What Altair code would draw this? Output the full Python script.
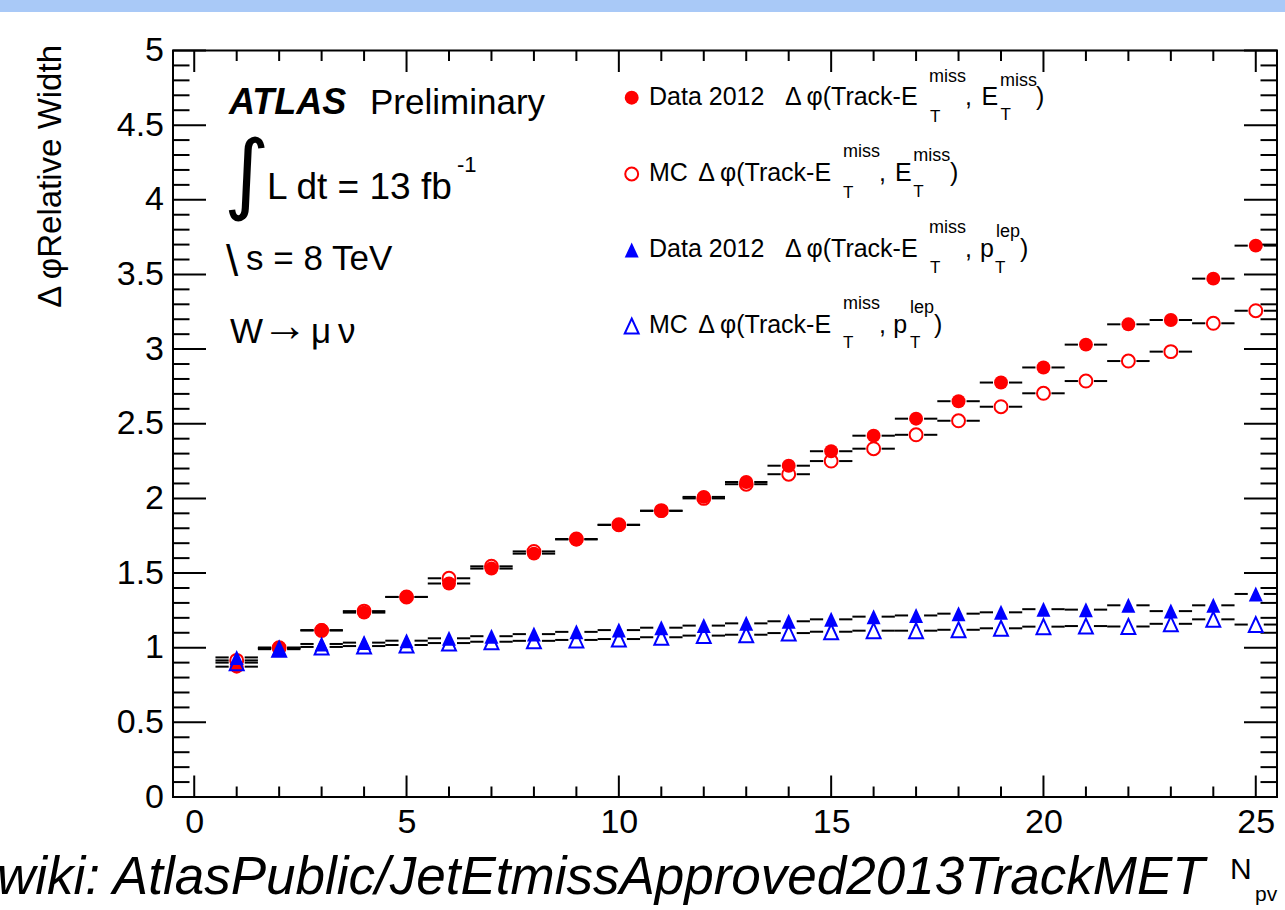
import altair as alt
import numpy as np
import pandas as pd

# Number of primary vertices (bin centres)
n_pv = list(range(1, 26))

# Relative width of the delta-phi distributions per N_pv bin
data_met = [0.873, 1.0, 1.118, 1.235, 1.34, 1.43, 1.53, 1.63, 1.725, 1.822,
            1.916, 2.01, 2.11, 2.219, 2.316, 2.42, 2.534, 2.651, 2.776, 2.877,
            3.03, 3.166, 3.195, 3.472, 3.693]
mc_met = [0.915, 1.0, 1.115, 1.245, 1.34, 1.465, 1.545, 1.645, 1.728, 1.824,
          1.918, 2.0, 2.095, 2.162, 2.25, 2.333, 2.426, 2.52, 2.614, 2.704,
          2.786, 2.92, 2.983, 3.173, 3.257]
data_lep = [0.935, 0.995, 1.025, 1.034, 1.047, 1.063, 1.077, 1.091, 1.106, 1.118,
            1.134, 1.148, 1.163, 1.177, 1.19, 1.208, 1.216, 1.228, 1.237, 1.258,
            1.255, 1.284, 1.245, 1.284, 1.36]
mc_lep = [0.90, 0.99, 1.005, 1.011, 1.018, 1.031, 1.04, 1.046, 1.052, 1.058,
          1.07, 1.081, 1.087, 1.098, 1.107, 1.114, 1.114, 1.12, 1.13, 1.141,
          1.145, 1.142, 1.16, 1.19, 1.155]

series_names = ["data_met", "mc_met", "data_lep", "mc_lep"]
series_vals = [data_met, mc_met, data_lep, mc_lep]

x_tick_labels = [0, 5, 10, 15, 20, 25]
y_tick_labels = [0, 0.5, 1, 1.5, 2, 2.5, 3, 3.5, 4, 4.5, 5]

# ---- layout -------------------------------------------------------------
W, H = 1104, 746.5           # plot frame
OX, OY = 173, 50.5           # frame origin on the page
PAGE_W, PAGE_H = 1285, 910
X_DOMAIN = [-0.5, 25.5]
Y_DOMAIN = [0, 5]
PX_PER_UNIT = W / (X_DOMAIN[1] - X_DOMAIN[0])
GAP = 8 / PX_PER_UNIT        # error bar gap around each marker

RED = "#ff0000"
BLUE = "#0000ff"
FONT = "Liberation Sans"
TRI = "M0,-1L0.93,1L-0.93,1Z"

rows = []
for name, vals in zip(series_names, series_vals):
    for n, v in zip(n_pv, vals):
        rows.append({"npv": n, "val": v, "series": name})
df = pd.DataFrame(rows)

xs = alt.Scale(domain=X_DOMAIN, nice=False, zero=False)
ys = alt.Scale(domain=Y_DOMAIN, nice=False, zero=False)
xaxis = alt.Axis(values=x_tick_labels, labelExpr="'' + datum.value", title=None,
                 ticks=False, tickSize=0, domain=False, grid=False,
                 labelFont=FONT, labelFontSize=34, labelColor="black",
                 labelPadding=8.5, labelFlush=False, labelOverlap=False)
yaxis = alt.Axis(values=y_tick_labels, labelExpr="'' + datum.value", title=None,
                 ticks=False, tickSize=0, domain=False, grid=False,
                 labelFont=FONT, labelFontSize=34, labelColor="black",
                 labelPadding=9.5, labelFlush=False, labelOverlap=False)


def X(field):
    return alt.X(field, type="quantitative", scale=xs, axis=xaxis)


def Y(field):
    return alt.Y(field, type="quantitative", scale=ys, axis=yaxis)


layers = []

# slide header strip
layers.append(
    alt.Chart(alt.Data(values=[{"k": 0}])).mark_rect(color="#a9c9f7").encode(
        x=alt.value(-OX), x2=alt.value(PAGE_W - OX),
        y=alt.value(-OY), y2=alt.value(12 - OY))
)

# ---- frame ticks (drawn inside the frame, ROOT style) --------------------
x_major = pd.DataFrame({"v": x_tick_labels})
x_minor = pd.DataFrame({"v": [i for i in range(0, 26) if i % 5 != 0]})
y_all = np.round(np.arange(0, 5.001, 0.1), 1)
y_major = pd.DataFrame({"v": y_tick_labels})
y_minor = pd.DataFrame({"v": [v for v in y_all if abs(v * 2 - round(v * 2)) > 1e-6]})

tick_style = dict(color="black", strokeWidth=2)
for data, ln in [(x_major, 21.5), (x_minor, 10.5)]:
    layers.append(alt.Chart(data).mark_rule(**tick_style).encode(
        x=X("v"), y=alt.value(H), y2=alt.value(H - ln)))
    layers.append(alt.Chart(data).mark_rule(**tick_style).encode(
        x=X("v"), y=alt.value(0), y2=alt.value(ln)))
for data, ln in [(y_major, 33), (y_minor, 16.5)]:
    layers.append(alt.Chart(data).mark_rule(**tick_style).encode(
        y=Y("v"), x=alt.value(0), x2=alt.value(ln)))
    layers.append(alt.Chart(data).mark_rule(**tick_style).encode(
        y=Y("v"), x=alt.value(W), x2=alt.value(W - ln)))

# ---- horizontal bin-width error bars ------------------------------------
bars = alt.Chart(df).transform_calculate(
    lo="datum.npv - 0.5", gl=f"datum.npv - {GAP}",
    gr=f"datum.npv + {GAP}", hi="datum.npv + 0.5")
layers.append(bars.mark_rule(color="black", strokeWidth=2).encode(
    x=X("lo"), x2="gl:Q", y=Y("val")))
layers.append(bars.mark_rule(color="black", strokeWidth=2).encode(
    x=X("gr"), x2="hi:Q", y=Y("val")))

# ---- markers -------------------------------------------------------------
marker_style = {
    "data_met": dict(shape="circle", filled=True, size=194, color=RED, opacity=1),
    "mc_met": dict(shape="circle", filled=False, size=167, color=RED, strokeWidth=2, opacity=1),
    "data_lep": dict(shape=TRI, filled=True, size=225, color=BLUE, opacity=1),
    "mc_lep": dict(shape=TRI, filled=False, size=225, color=BLUE, strokeWidth=2, opacity=1),
}
for name in series_names:
    layers.append(
        alt.Chart(df).transform_filter(alt.datum.series == name)
        .mark_point(**marker_style[name])
        .encode(x=X("npv"), y=Y("val"))
    )


# ---- text helpers --------------------------------------------------------
def text(t, x, y, size, **kw):
    props = dict(text=t, font=FONT, fontSize=size, color="black",
                 align="left", baseline="alphabetic")
    props.update(kw)
    return alt.Chart(alt.Data(values=[{"k": 0}])).mark_text(**props).encode(
        x=alt.value(x - OX), y=alt.value(y - OY))


def symbol(name, x, y):
    return alt.Chart(alt.Data(values=[{"k": 0}])).mark_point(**marker_style[name]).encode(
        x=alt.value(x - OX), y=alt.value(y - OY))


# legend
LS, SUP, SUB = 25, 18, 17
legend_rows = [
    ("data_met", 97.7, [
        ("Data 2012", 649, 105, LS), ("Δ", 785, 105, LS), ("φ(Track-E", 806.5, 105, LS),
        ("miss", 929, 82, SUP), ("T", 930, 121.5, SUB),
        (",", 965, 105, LS), ("E", 981.5, 105, LS),
        ("miss", 1000, 86, SUP), ("T", 1000.5, 120, SUB), (")", 1036, 105, LS)]),
    ("mc_met", 174, [
        ("MC", 649, 180.7, LS), ("Δ", 698.3, 180.7, LS), ("φ(Track-E", 720, 180.7, LS),
        ("miss", 843, 156.7, SUP), ("T", 843, 198, SUB),
        (",", 879, 180.7, LS), ("E", 895, 180.7, LS),
        ("miss", 913.3, 160.7, SUP), ("T", 913.3, 196.7, SUB), (")", 950, 180.7, LS)]),
    ("data_lep", 250, [
        ("Data 2012", 649, 256.7, LS), ("Δ", 785, 256.7, LS), ("φ(Track-E", 806.5, 256.7, LS),
        ("miss", 929, 233.3, SUP), ("T", 930, 273.3, SUB),
        (",", 965, 256.7, LS), ("p", 980, 256.7, LS),
        ("lep", 996, 236.5, SUP), ("T", 995, 273.3, SUB), (")", 1020, 256.7, LS)]),
    ("mc_lep", 326, [
        ("MC", 649, 332.7, LS), ("Δ", 698.3, 332.7, LS), ("φ(Track-E", 720, 332.7, LS),
        ("miss", 843, 309.3, SUP), ("T", 843, 348.3, SUB),
        (",", 879, 332.7, LS), ("p", 893.3, 332.7, LS),
        ("lep", 910, 313, SUP), ("T", 910, 348, SUB), (")", 934, 332.7, LS)]),
]
for name, ym, pieces in legend_rows:
    layers.append(symbol(name, 631.7, ym))
    for t, x, y, s in pieces:
        layers.append(text(t, x, y, s))

# experiment labels
layers += [
    text("ATLAS", 229, 114, 36, fontStyle="italic", fontWeight="bold"),
    text("Preliminary", 370, 114, 35),
    text("∫", 224, 203, 88, font="DejaVu Sans", fontWeight="normal"),
    text("L dt = 13 fb", 267, 199, 37),
    text("-1", 457, 172, 22),
    text("\\", 226, 276, 44),
    text("s = 8 TeV", 246, 270, 35),
    text("W", 230, 343, 35),
    text("→", 262, 341, 46),
    text("μ", 311, 343, 35),
    text("ν", 338, 343, 35),
]

# axis titles
layers += [
    text("Δ\u2009φRelative Width", 61, 45, 33, angle=270, align="right"),
    text("N", 1230, 879, 30),
    text("pv", 1255, 901, 21),
]

# source reference line
layers.append(text("wiki: AtlasPublic/JetEtmissApproved2013TrackMET", -3, 894, 53,
                   fontStyle="italic"))

chart = alt.layer(*layers).properties(
    width=W, height=H,
    autosize=alt.AutoSizeParams(type="none"),
    padding={"left": OX, "top": OY, "right": PAGE_W - OX - W, "bottom": PAGE_H - OY - H},
    background="white",
).configure_view(stroke="black", strokeWidth=2)

chart.save("out.html", embed_options={"renderer": "svg", "actions": False})
